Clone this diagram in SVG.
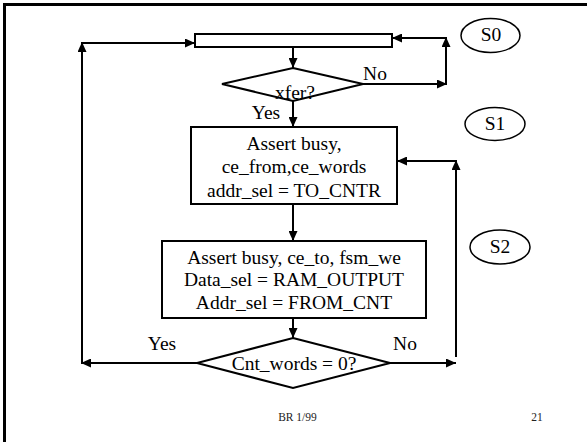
<svg xmlns="http://www.w3.org/2000/svg" width="587" height="442" viewBox="0 0 587 442">
  <style>
    .box { fill: #fff; stroke: #000; stroke-width: 2; }
    .state { fill: #fff; stroke: #000; stroke-width: 1.5; }
    .t { font-family: "Liberation Serif", "Times New Roman", serif; font-size: 19.5px; fill: #000; text-anchor: middle; }
    .foot { font-family: "Liberation Serif", "Times New Roman", serif; font-size: 11.5px; fill: #222; text-anchor: middle; }
    .wire { fill: none; stroke: #000; stroke-width: 2; marker-end: url(#arrow); }
  </style>
  <defs>
    <marker id="arrow" markerUnits="userSpaceOnUse" markerWidth="10" markerHeight="9" refX="10" refY="4.5" orient="auto">
      <path d="M0,0 L10,4.5 L0,9 z" fill="#000"/>
    </marker>
  </defs>
  <rect width="587" height="442" fill="#fff"/>

  <!-- slide frame (top and left edges) -->
  <path d="M4.5,442 V4.5 H587" fill="none" stroke="#000" stroke-width="3"/>

  <!-- idle bar -->
  <g id="idle">
    <rect class="box" x="195" y="34" width="197" height="13"/>
  </g>

  <!-- xfer? decision -->
  <g id="xfer">
    <polygon class="box" points="293,68 363,84 293,101 222,84"/>
    <text class="t" x="295" y="99">xfer?</text>
  </g>

  <!-- S1 action box -->
  <g id="box1">
    <rect class="box" x="191" y="127" width="206" height="77"/>
    <text class="t" x="294" y="150">Assert busy,</text>
    <text class="t" x="294" y="173">ce_from,ce_words</text>
    <text class="t" x="294" y="196.5">addr_sel = TO_CNTR</text>
  </g>

  <!-- S2 action box -->
  <g id="box2">
    <rect class="box" x="162" y="241" width="264" height="77"/>
    <text class="t" x="294" y="263.5">Assert busy, ce_to, fsm_we</text>
    <text class="t" x="294" y="286">Data_sel = RAM_OUTPUT</text>
    <text class="t" x="294" y="309">Addr_sel = FROM_CNT</text>
  </g>

  <!-- Cnt_words = 0? decision -->
  <g id="cnt">
    <polygon class="box" points="293,338 390,363 293,388 197,363"/>
    <text class="t" x="294" y="370">Cnt_words = 0?</text>
  </g>

  <!-- state labels -->
  <g id="s0">
    <ellipse class="state" cx="490.5" cy="35.5" rx="29.5" ry="17"/>
    <text class="t" x="491" y="41">S0</text>
  </g>
  <g id="s1">
    <ellipse class="state" cx="495" cy="124" rx="30" ry="16.5"/>
    <text class="t" x="495" y="129.5">S1</text>
  </g>
  <g id="s2">
    <ellipse class="state" cx="500" cy="247" rx="30" ry="17"/>
    <text class="t" x="500" y="253">S2</text>
  </g>

  <!-- connectors -->
  <g id="connectors">
    <path class="wire" d="M293,47 V68"/>
    <path class="wire" d="M293,101 V127"/>
    <path class="wire" d="M293,204 V241"/>
    <path class="wire" d="M293,318 V338"/>

    <path class="wire" d="M363,84 H447"/>
    <path class="wire" d="M446,84 V37"/>
    <path class="wire" d="M447,38 H392"/>

    <path class="wire" d="M197,363 H81"/>
    <path class="wire" d="M82,362 V42"/>
    <path class="wire" d="M81,43 H195"/>

    <path class="wire" d="M390,363 H456"/>
    <path class="wire" d="M456,357 V160"/>
    <path class="wire" d="M457,161 H397"/>

    <text class="t" x="375" y="80">No</text>
    <text class="t" x="266" y="119">Yes</text>
    <text class="t" x="162" y="350">Yes</text>
    <text class="t" x="405" y="350">No</text>
  </g>

  <!-- footer -->
  <text class="foot" x="297.5" y="420.5">BR 1/99</text>
  <text class="foot" x="537" y="420.5">21</text>
</svg>
